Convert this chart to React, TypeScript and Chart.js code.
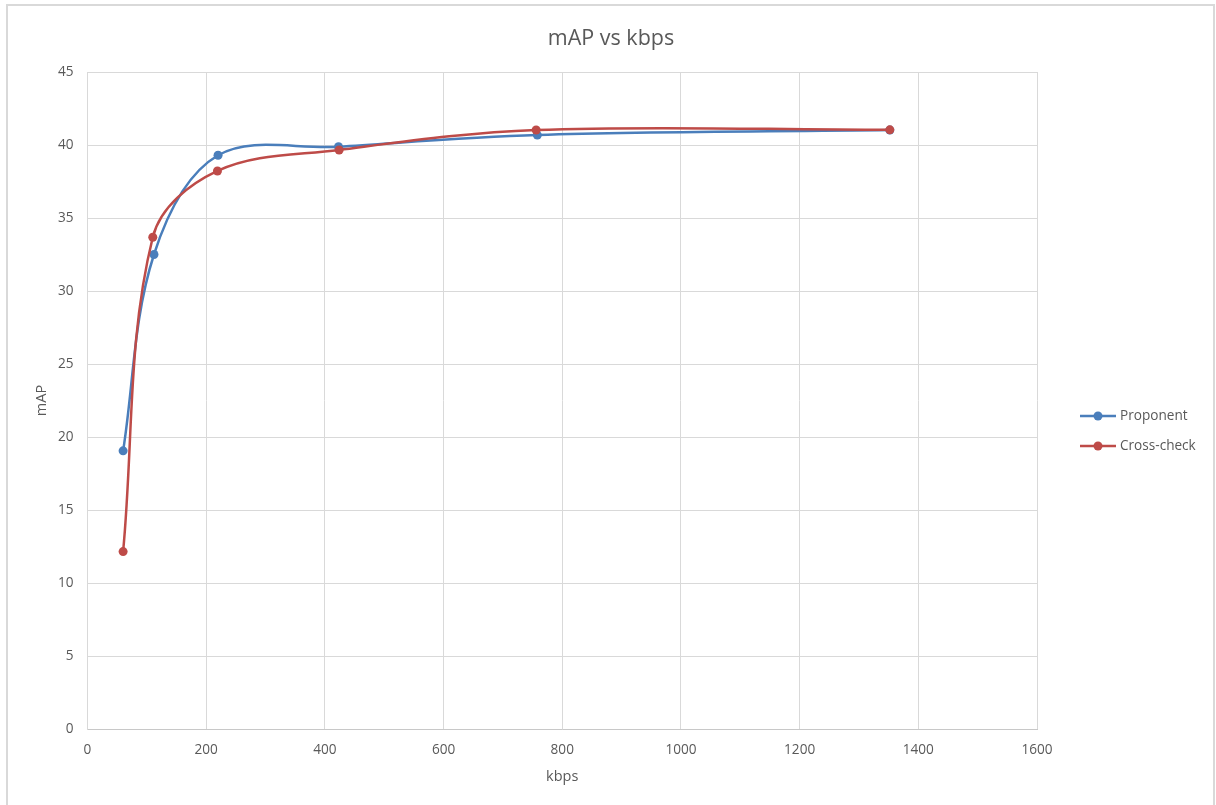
import React, { useEffect, useRef } from "react";
import { Chart, registerables } from "chart.js";

Chart.register(...registerables);

const TITLE = "mAP vs kbps";
const X_TITLE = "kbps";
const Y_TITLE = "mAP";
const X_TICKS = [0, 200, 400, 600, 800, 1000, 1200, 1400, 1600];
const Y_TICKS = [0, 5, 10, 15, 20, 25, 30, 35, 40, 45];

const SERIES_NAMES = ["Proponent", "Cross-check"];
const SERIES_COLORS = ["#4a7ebb", "#be4b48"];

const PROPONENT_KBPS = [60, 112, 220, 423, 758, 1352];
const PROPONENT_MAP = [19.05, 32.5, 39.3, 39.88, 40.68, 41.02];

const CROSSCHECK_KBPS = [60, 110, 219, 424, 756, 1352];
const CROSSCHECK_MAP = [12.15, 33.68, 38.22, 39.66, 41.03, 41.04];

const FONT = "'Open Sans', 'Noto Sans', sans-serif";
const TEXT_COLOR = "#595959";
const GRID_COLOR = "#d9d9d9";

const toPoints = (xs: number[], ys: number[]) => xs.map((x, i) => ({ x, y: ys[i] }));

const legendPlugin = {
  id: "excelLegend",
  afterDraw(chart: any) {
    const ctx = chart.ctx as CanvasRenderingContext2D;
    ctx.save();
    chart.data.datasets.forEach((ds: any, i: number) => {
      const y = 416 + i * 30;
      const x0 = 1080;
      ctx.strokeStyle = ds.borderColor;
      ctx.lineWidth = 2.5;
      ctx.beginPath();
      ctx.moveTo(x0, y);
      ctx.lineTo(x0 + 36, y);
      ctx.stroke();
      ctx.fillStyle = ds.borderColor;
      ctx.beginPath();
      ctx.arc(x0 + 18, y, 4.5, 0, Math.PI * 2);
      ctx.fill();
      ctx.fillStyle = TEXT_COLOR;
      ctx.font = `13.6px ${FONT}`;
      ctx.textAlign = "left";
      ctx.textBaseline = "middle";
      ctx.fillText(ds.label, x0 + 40, y);
    });
    ctx.restore();
  },
};

export default function App() {
  const canvasRef = useRef<HTMLCanvasElement | null>(null);

  useEffect(() => {
    const canvas = canvasRef.current;
    if (!canvas) return;
    const datasets = [
      toPoints(PROPONENT_KBPS, PROPONENT_MAP),
      toPoints(CROSSCHECK_KBPS, CROSSCHECK_MAP),
    ].map((data, i) => ({
      label: SERIES_NAMES[i],
      data,
      order: 1 - i,
      borderColor: SERIES_COLORS[i],
      backgroundColor: SERIES_COLORS[i],
      borderWidth: 2.5,
      pointRadius: 4.5,
      pointBorderWidth: 0,
      pointBackgroundColor: SERIES_COLORS[i],
      tension: 0.35,
      showLine: true,
      fill: false,
    }));

    const tickFont = { family: FONT, size: 13.6 };

    const chart = new Chart(canvas, {
      type: "scatter",
      data: { datasets },
      plugins: [legendPlugin],
      options: {
        animation: false,
        responsive: false,
        maintainAspectRatio: false,
        layout: { padding: { left: 6, right: 0, top: 0, bottom: 0 } },
        plugins: {
          legend: { display: false },
          tooltip: { enabled: false },
          title: {
            display: true,
            text: TITLE,
            color: TEXT_COLOR,
            font: { family: FONT, size: 21.5, weight: "normal" },
            padding: { top: 26, bottom: 20.2 },
          },
        },
        scales: {
          x: {
            type: "linear",
            min: 0,
            max: 1600,
            afterBuildTicks: (s: any) => {
              s.ticks = X_TICKS.map((v) => ({ value: v }));
            },
            afterFit: (s: any) => {
              s.height = 76;
            },
            ticks: {
              color: TEXT_COLOR,
              font: tickFont,
              padding: 13,
              maxRotation: 0,
              autoSkip: false,
              callback: (v: any) => String(v),
            },
            grid: { color: GRID_COLOR, drawTicks: false, lineWidth: 1 },
            border: { color: "#c8c8c8", width: 1 },
            title: {
              display: true,
              text: X_TITLE,
              color: TEXT_COLOR,
              font: { family: FONT, size: 14.5 },
              padding: { top: 0, bottom: 19 },
            },
          },
          y: {
            type: "linear",
            min: 0,
            max: 45,
            afterBuildTicks: (s: any) => {
              s.ticks = Y_TICKS.map((v) => ({ value: v }));
            },
            afterFit: (s: any) => {
              s.width = 81.5;
            },
            ticks: {
              color: TEXT_COLOR,
              font: tickFont,
              padding: 14,
              autoSkip: false,
              callback: (v: any) => String(v),
            },
            grid: { color: GRID_COLOR, drawTicks: false, lineWidth: 1 },
            border: { color: GRID_COLOR, width: 1 },
            title: {
              display: true,
              text: Y_TITLE,
              color: TEXT_COLOR,
              font: { family: FONT, size: 14.5 },
              padding: { top: 27.5, bottom: 0 },
            },
          },
          legendSpace: {
            type: "linear",
            position: "right",
            display: true,
            min: 0,
            max: 45,
            afterFit: (s: any) => {
              s.width = 179;
            },
            ticks: { display: false },
            grid: { display: false, drawTicks: false },
            border: { display: false },
            title: { display: false },
          },
        },
      },
    });
    return () => chart.destroy();
  }, []);

  return (
    <div style={{ position: "fixed", left: 0, top: 0, width: 1216, height: 805, background: "#fff", overflow: "hidden" }}>
      <div
        style={{
          position: "absolute",
          left: 6,
          top: 4,
          width: 1205,
          height: 900,
          border: "2px solid #d9d9d9",
          boxSizing: "content-box",
          pointerEvents: "none",
        }}
      />
      <canvas ref={canvasRef} width={1216} height={805} style={{ position: "absolute", left: 0, top: 0, width: 1216, height: 805 }} />
    </div>
  );
}
